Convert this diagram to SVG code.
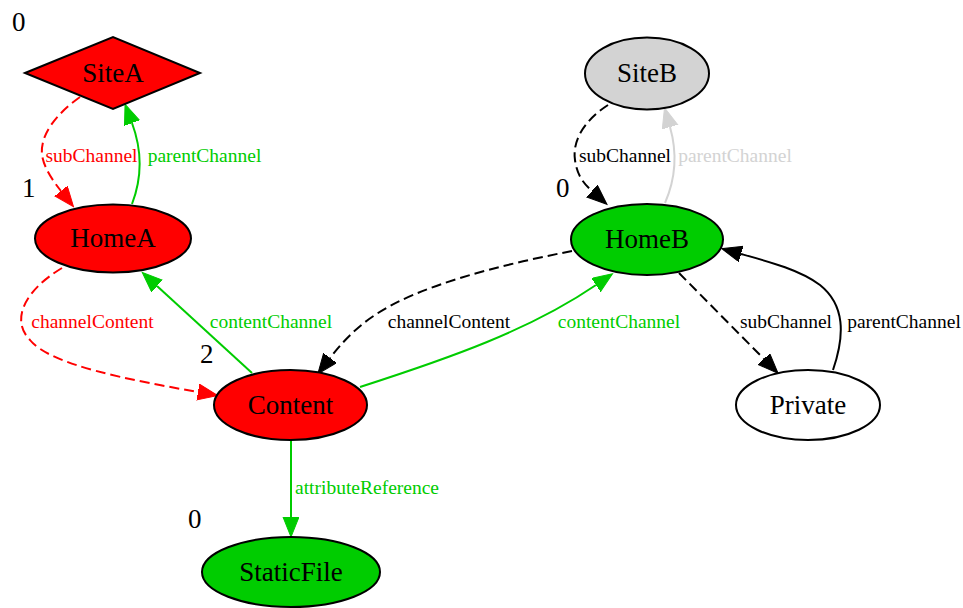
<svg xmlns="http://www.w3.org/2000/svg" width="963" height="608" viewBox="0 0 963 608">
<defs>
<style>
.n{stroke:#000;stroke-width:2}
.nl{font-family:"Liberation Serif","Times New Roman",serif;font-size:27px;text-anchor:middle;fill:#000}
.rk{font-family:"Liberation Serif","Times New Roman",serif;font-size:27px;fill:#000}
.el{font-family:"Liberation Serif","Times New Roman",serif;font-size:19.5px;text-anchor:middle}
.e{fill:none;stroke-width:2}
.d{stroke-dasharray:10,5}
.red{stroke:#ff0000}
.grn{stroke:#00cc00}
.blk{stroke:#000}
.gry{stroke:#d3d3d3}
</style>
<marker id="aR" markerUnits="userSpaceOnUse" markerWidth="22" markerHeight="18" refX="0" refY="8" orient="auto"><path d="M0,0 L20,8 L0,16 z" fill="#ff0000" stroke="#ff0000" stroke-width="1"/></marker>
<marker id="aG" markerUnits="userSpaceOnUse" markerWidth="22" markerHeight="18" refX="0" refY="8" orient="auto"><path d="M0,0 L20,8 L0,16 z" fill="#00cc00" stroke="#00cc00" stroke-width="1"/></marker>
<marker id="aK" markerUnits="userSpaceOnUse" markerWidth="22" markerHeight="18" refX="0" refY="8" orient="auto"><path d="M0,0 L20,8 L0,16 z" fill="#000" stroke="#000" stroke-width="1"/></marker>
<marker id="aY" markerUnits="userSpaceOnUse" markerWidth="22" markerHeight="18" refX="0" refY="8" orient="auto"><path d="M0,0 L20,8 L0,16 z" fill="#d3d3d3" stroke="#d3d3d3" stroke-width="1"/></marker>
</defs>
<rect width="963" height="608" fill="#fff"/>

<g id="edges">
<path class="e d red" d="M80,97 C55,115 40,135 42,155 C44,168 53,181 61,191" marker-end="url(#aR)"/>
<text class="el" x="91.5" y="162" fill="#ff0000">subChannel</text>
<path class="e grn" d="M132,204 C142,178 142,150 132,123" marker-end="url(#aG)"/>
<text class="el" x="204.5" y="162" fill="#00cc00">parentChannel</text>
<path class="e d red" d="M62,268 C25,290 10,320 30,340 C50,365 130,380 198,392" marker-end="url(#aR)"/>
<text class="el" x="92.5" y="328" fill="#ff0000">channelContent</text>
<path class="e grn" d="M252,373 L157,286" marker-end="url(#aG)"/>
<text class="el" x="271" y="328" fill="#00cc00">contentChannel</text>
<path class="e d blk" d="M572,251 C500,265 420,285 375,315 C355,328 340,345 330,358" marker-end="url(#aK)"/>
<text class="el" x="449" y="328" fill="#000">channelContent</text>
<path class="e grn" d="M360,387 C450,358 530,330 596,285" marker-end="url(#aG)"/>
<text class="el" x="619" y="328" fill="#00cc00">contentChannel</text>
<path class="e d blk" d="M679,273 L764,359" marker-end="url(#aK)"/>
<text class="el" x="786" y="328" fill="#000">subChannel</text>
<path class="e blk" d="M833,370 C845,335 845,305 820,285 C800,270 770,262 741,254" marker-end="url(#aK)"/>
<text class="el" x="904" y="328" fill="#000">parentChannel</text>
<path class="e d blk" d="M608,105 C585,120 572,140 575,160 C577,175 583,183 592,191" marker-end="url(#aK)"/>
<text class="el" x="625" y="162" fill="#000">subChannel</text>
<path class="e gry" d="M665,203 C675,180 678,155 670,127" marker-end="url(#aY)"/>
<text class="el" x="735" y="162" fill="#d3d3d3">parentChannel</text>
<path class="e grn" d="M291,440 L291,517" marker-end="url(#aG)"/>
<text class="el" x="367" y="494" fill="#00cc00">attributeReference</text>
</g>

<g id="SiteA">
<polygon class="n" points="25,73 113,37 200,73 113,109" fill="#ff0000"/>
<text class="nl" x="113" y="82">SiteA</text>
<text class="rk" x="12" y="31">0</text>
</g>
<g id="HomeA">
<ellipse class="n" cx="113" cy="238.5" rx="78" ry="34" fill="#ff0000"/>
<text class="nl" x="113" y="247">HomeA</text>
<text class="rk" x="22" y="197">1</text>
</g>
<g id="SiteB">
<ellipse class="n" cx="647" cy="73.5" rx="62" ry="36" fill="#d3d3d3"/>
<text class="nl" x="647" y="82">SiteB</text>
</g>
<g id="HomeB">
<ellipse class="n" cx="647" cy="239.5" rx="76" ry="35.5" fill="#00cc00"/>
<text class="nl" x="647" y="248">HomeB</text>
<text class="rk" x="556" y="197">0</text>
</g>
<g id="Content">
<ellipse class="n" cx="290.5" cy="405" rx="76.5" ry="35" fill="#ff0000"/>
<text class="nl" x="290.5" y="414">Content</text>
<text class="rk" x="200" y="363">2</text>
</g>
<g id="Private">
<ellipse class="n" cx="808" cy="405" rx="72" ry="35" fill="#ffffff"/>
<text class="nl" x="808" y="414">Private</text>
</g>
<g id="StaticFile">
<ellipse class="n" cx="291" cy="572" rx="89" ry="35" fill="#00cc00"/>
<text class="nl" x="291" y="581">StaticFile</text>
<text class="rk" x="188" y="528">0</text>
</g>
</svg>
